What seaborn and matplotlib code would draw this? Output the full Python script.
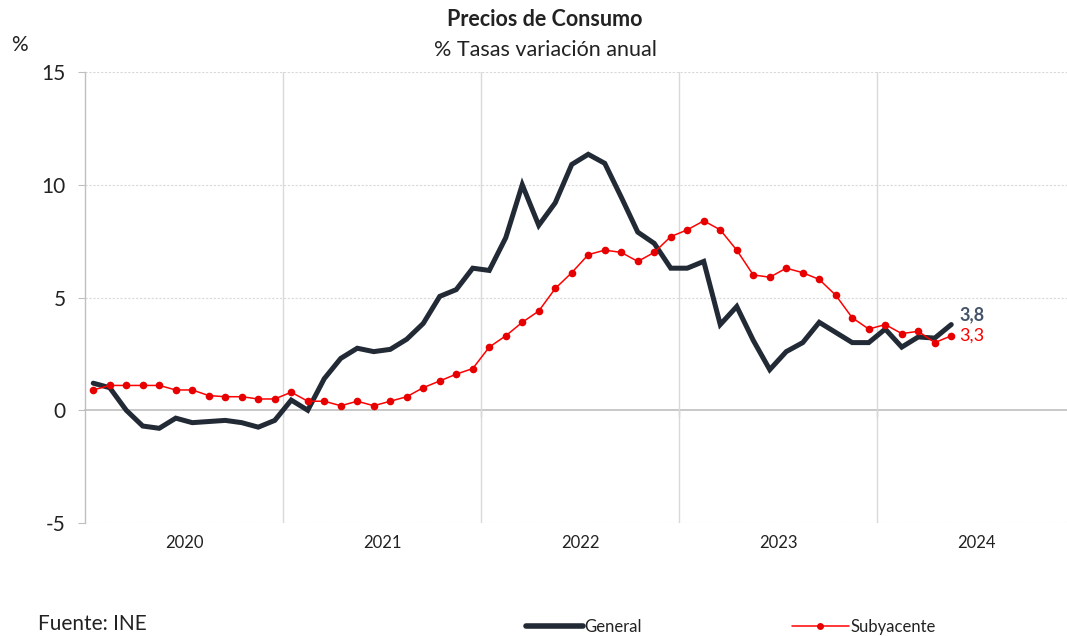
import numpy as np
import pandas as pd
import matplotlib
matplotlib.use("Agg")
import matplotlib.pyplot as plt
import seaborn as sns
from matplotlib.lines import Line2D

# ---- data (monthly, Jan 2020 - May 2024) ----
years = ["2020", "2021", "2022", "2023", "2024"]
general = [1.2, 1.0, 0.0, -0.7, -0.8, -0.35, -0.55, -0.5, -0.45, -0.55, -0.75, -0.45,
           0.45, 0.0, 1.4, 2.3, 2.75, 2.6, 2.7, 3.15, 3.85, 5.05, 5.35, 6.3,
           6.2, 7.65, 10.0, 8.2, 9.2, 10.9, 11.35, 10.95, 9.45, 7.9, 7.4, 6.3,
           6.3, 6.6, 3.8, 4.6, 3.1, 1.8, 2.6, 3.0, 3.9, 3.45, 3.0, 3.0,
           3.6, 2.8, 3.25, 3.2, 3.8]
subyacente = [0.9, 1.1, 1.1, 1.1, 1.1, 0.9, 0.9, 0.65, 0.6, 0.6, 0.5, 0.5,
              0.8, 0.4, 0.4, 0.2, 0.4, 0.2, 0.4, 0.6, 1.0, 1.3, 1.6, 1.85,
              2.8, 3.3, 3.9, 4.4, 5.4, 6.1, 6.9, 7.1, 7.0, 6.6, 7.0, 7.7,
              8.0, 8.4, 8.0, 7.1, 6.0, 5.9, 6.3, 6.1, 5.8, 5.1, 4.1, 3.6,
              3.8, 3.4, 3.5, 3.0, 3.3]
last_general_label = "3,8"
last_sub_label = "3,3"

C_GEN = "#222A35"
C_SUB = "#FF0000"
C_LBL = "#44546A"
GRID = "#D9D9D9"

sns.set_theme(style="white")
plt.rcParams["font.family"] = ["Lato", "DejaVu Sans"]

n = len(general)
month_idx = np.arange(n)
df = pd.DataFrame({"mes": month_idx, "General": general, "Subyacente": subyacente})

fig = plt.figure(figsize=(10.67, 6.37), dpi=100)
ax = fig.add_axes([85 / 1067, 114 / 637, 990 / 1067, 451 / 637])

sns.lineplot(data=df, x="mes", y="General", ax=ax, color=C_GEN, linewidth=3.6,
             solid_joinstyle="miter", zorder=4)
sns.lineplot(data=df, x="mes", y="Subyacente", ax=ax, color=C_SUB, linewidth=1.1,
             marker="o", markersize=5.5, markeredgewidth=0, markerfacecolor="#E60000", zorder=5)

ax.set_xlim(-0.5, len(years) * 12 - 0.5)
ax.set_ylim(-5, 15)

# y axis
ax.set_yticks([-5, 0, 5, 10, 15])
ax.set_yticklabels(["-5", "0", "5", "10", "15"])
ax.tick_params(axis="y", which="major", left=True, length=5, width=0.8, color="#BFBFBF",
               labelsize=15, labelcolor="#222222", pad=9)
for yv in [-5, 5, 10, 15]:
    ax.axhline(yv, color=GRID, linewidth=0.8, linestyle=(0, (2, 1.5)), zorder=1)

# x axis: year boundaries as gridlines, labels centered on year
bounds = [12 * k - 0.5 for k in range(1, len(years))]
centers = [12 * k + 5.5 for k in range(len(years))]
ax.set_xticks(bounds)
ax.set_xticklabels([])
ax.set_xticks(centers, minor=True)
ax.set_xticklabels(years, minor=True)
ax.tick_params(axis="x", which="major", bottom=False, length=0)
ax.tick_params(axis="x", which="minor", bottom=False, length=0, labelsize=12,
               labelcolor="#222222", pad=9)
ax.grid(axis="x", which="major", color=GRID, linewidth=1.0, linestyle="-")
ax.grid(axis="y", visible=False)

for s in ["top", "right", "bottom"]:
    ax.spines[s].set_visible(False)
ax.spines["left"].set_color("#BFBFBF")
ax.spines["left"].set_linewidth(1.0)

# zero axis line with tick marks
sec = ax.secondary_xaxis(0.25)
sec.set_xticks(bounds)
sec.set_xticklabels([])
sec.tick_params(axis="x", length=5, width=1.0, color="#BFBFBF", direction="out")
sec.spines["bottom"].set_color("#BFBFBF")
sec.spines["bottom"].set_linewidth(1.2)

ax.set_xlabel("")
ax.set_ylabel("")

# end labels
ax.annotate(last_general_label, xy=(month_idx[-1], general[-1]), xytext=(6, 7),
            textcoords="offset points", color=C_LBL, fontsize=13, fontweight="bold",
            va="center", ha="left")
ax.annotate(last_sub_label, xy=(month_idx[-1], subyacente[-1]), xytext=(6, 0),
            textcoords="offset points", color=C_SUB, fontsize=13,
            va="center", ha="left")

# titles
fig.text(545 / 1067, 1 - 20 / 637, "Precios de Consumo", ha="center", va="center",
         fontsize=15.5, fontweight="bold", color="#222222")
fig.text(545 / 1067, 1 - 50 / 637, "% Tasas variación anual", ha="center", va="center",
         fontsize=15.5, color="#222222")
fig.text(19 / 1067, 1 - 45 / 637, "%", ha="center", va="center", fontsize=15, color="#222222")
fig.text(38 / 1067, 1 - 624 / 637, "Fuente: INE", ha="left", va="center", fontsize=15,
         color="#222222")

handles = [Line2D([], [], color=C_GEN, linewidth=4.0),
           Line2D([], [], color=C_SUB, linewidth=1.1, marker="o", markersize=5,
                  markerfacecolor="#E60000", markeredgewidth=0)]
leg = fig.legend(handles, ["General", "Subyacente"], loc="center",
                 bbox_to_anchor=(731 / 1067, 1 - 627 / 637), ncol=2, frameon=False,
                 handlelength=3.4, handletextpad=0.1, columnspacing=9.0, fontsize=12)
for t in leg.get_texts():
    t.set_color("#222222")

fig.savefig("out.png", dpi=100)
